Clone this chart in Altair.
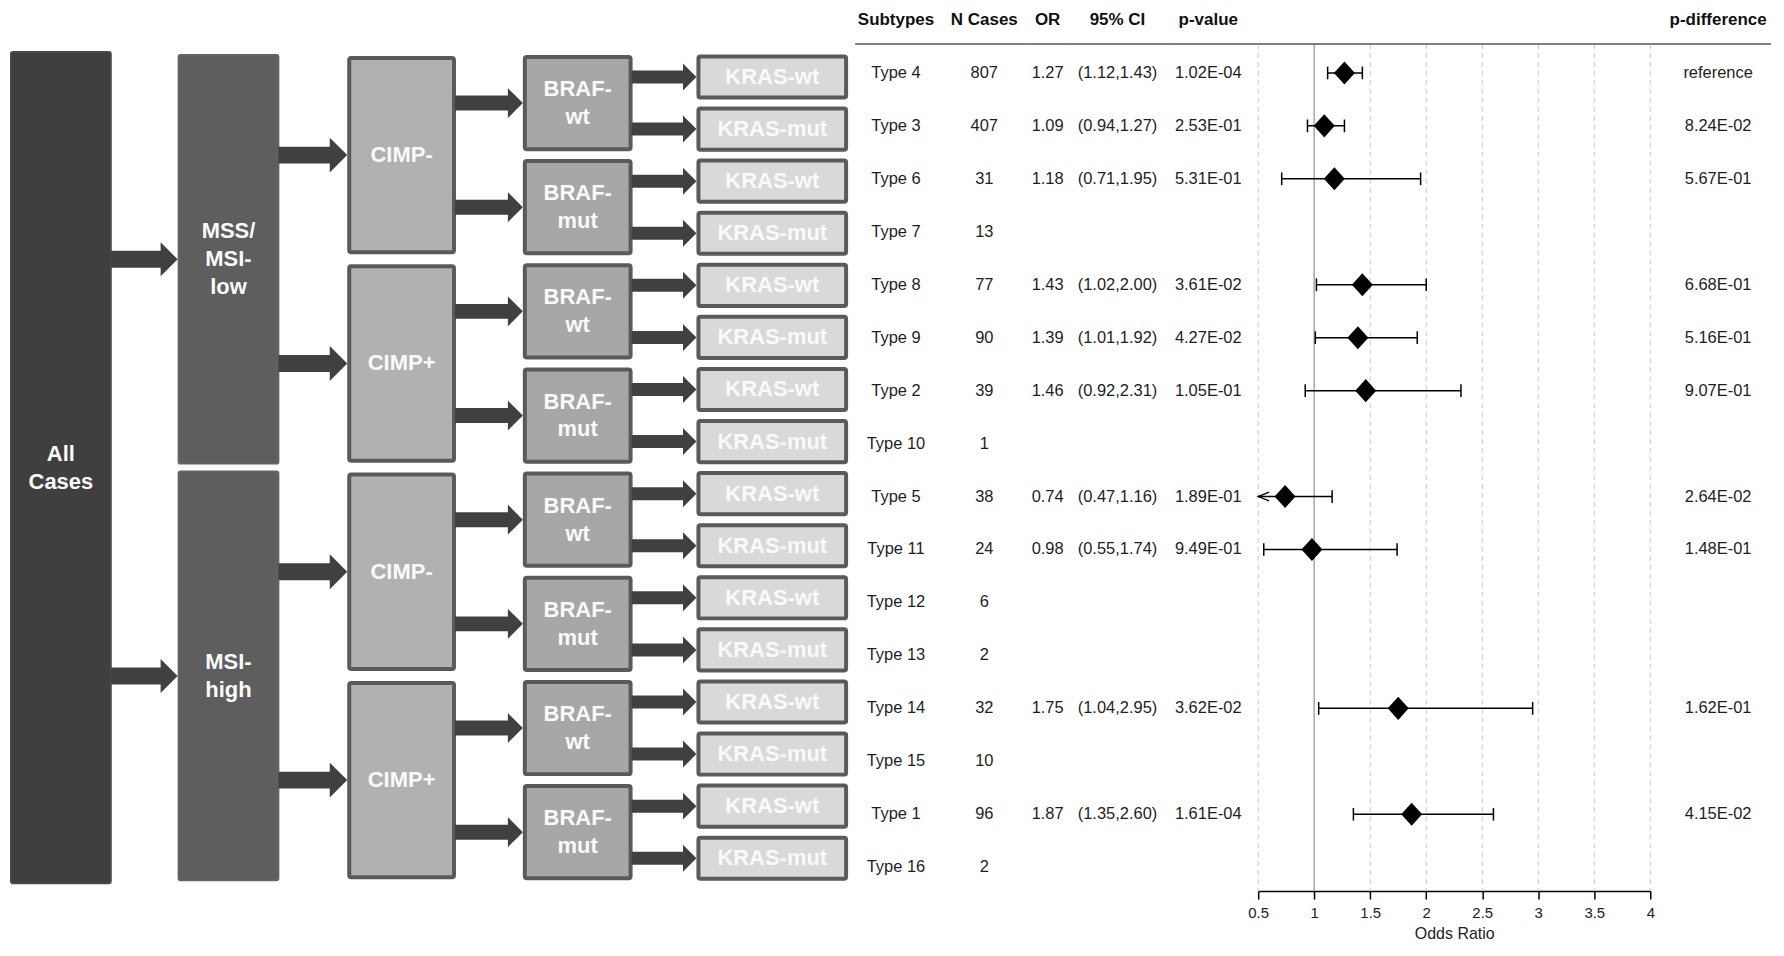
import altair as alt
import pandas as pd

# ---------------- data ----------------
subtypes = ["Type 4", "Type 3", "Type 6", "Type 7", "Type 8", "Type 9", "Type 2", "Type 10",
            "Type 5", "Type 11", "Type 12", "Type 13", "Type 14", "Type 15", "Type 1", "Type 16"]
n_cases = [807, 407, 31, 13, 77, 90, 39, 1, 38, 24, 6, 2, 32, 10, 96, 2]
odds_ratio = [1.27, 1.09, 1.18, None, 1.43, 1.39, 1.46, None, 0.74, 0.98, None, None, 1.75, None, 1.87, None]
ci_low = [1.12, 0.94, 0.71, None, 1.02, 1.01, 0.92, None, 0.47, 0.55, None, None, 1.04, None, 1.35, None]
ci_high = [1.43, 1.27, 1.95, None, 2.00, 1.92, 2.31, None, 1.16, 1.74, None, None, 2.95, None, 2.60, None]
p_value = ["1.02E-04", "2.53E-01", "5.31E-01", "", "3.61E-02", "4.27E-02", "1.05E-01", "",
           "1.89E-01", "9.49E-01", "", "", "3.62E-02", "", "1.61E-04", ""]
p_difference = ["reference", "8.24E-02", "5.67E-01", "", "6.68E-01", "5.16E-01", "9.07E-01", "",
                "2.64E-02", "1.48E-01", "", "", "1.62E-01", "", "4.15E-02", ""]
or_ticks = [0.5, 1, 1.5, 2, 2.5, 3, 3.5, 4]
or_reference = 1

# classification tree: label, level, first slot, last slot
diagram_labels = (["All\nCases", "MSS/\nMSI-\nlow", "MSI-\nhigh",
                   "CIMP-", "CIMP+", "CIMP-", "CIMP+"]
                  + ["BRAF-\nwt", "BRAF-\nmut"] * 4
                  + ["KRAS-wt", "KRAS-mut"] * 8)
diagram_levels = [0, 1, 1, 2, 2, 2, 2] + [3] * 8 + [4] * 16
diagram_start = [0, 0, 8, 0, 4, 8, 12, 0, 2, 4, 6, 8, 10, 12, 14,
                 0, 1, 2, 3, 4, 5, 6, 7, 8, 9, 10, 11, 12, 13, 14, 15]
diagram_end = [16, 8, 16, 4, 8, 12, 16, 2, 4, 6, 8, 10, 12, 14, 16,
               1, 2, 3, 4, 5, 6, 7, 8, 9, 10, 11, 12, 13, 14, 15, 16]

# ---------------- style / layout ----------------
FONT = "Liberation Sans"
H = 884
# table rows
ROW_TOP, ROW_BOT = -1.206, 15.45
HEADER_ROW, HEADER_LINE = -1.0, -0.546
# diagram slots
SLOT_PX = 52.2
SLOT_TOP = -42 / SLOT_PX
SLOT_BOT = (H - 42) / SLOT_PX
DIAG_W = 847
LEVEL_LEFT = [2, 170, 340, 516, 690]
LEVEL_RIGHT = [104, 272, 449, 626, 842]
LEVEL_INSET = [0, 3, 5, 4, 3.5]
LEVEL_FILL = ["#3f3f3f", "#5e5e5e", "#b1b1b1", "#a7a7a7", "#d9d9d9"]
LEVEL_STROKE = ["#4a4a4a", "#646464", "#5a5a5a", "#5a5a5a", "#5a5a5a"]
LEVEL_SW = [2, 2, 4, 4, 4]
ARROW_SHAFT = [0, 17, 17, 15, 13]
ARROW_HEAD = [0, 34, 35, 30, 27]
ARROW_COLOR = "#404040"
BOX_LINE_H = 28

# ---------------- diagram ----------------
boxes, texts, shafts, heads = [], [], [], []
for lab, lvl, s, e in zip(diagram_labels, diagram_levels, diagram_start, diagram_end):
    sw = LEVEL_SW[lvl]
    ins = (LEVEL_INSET[lvl] + sw / 2) / SLOT_PX
    boxes.append(dict(x0=LEVEL_LEFT[lvl] + sw / 2, x1=LEVEL_RIGHT[lvl] - sw / 2,
                      y0=s + ins, y1=e - ins, fill=LEVEL_FILL[lvl],
                      stroke=LEVEL_STROKE[lvl], sw=sw))
    cy = (s + e) / 2
    n_lines = lab.count("\n") + 1
    texts.append(dict(x=(LEVEL_LEFT[lvl] + LEVEL_RIGHT[lvl]) / 2,
                      y=cy - (n_lines - 1) / 2 * BOX_LINE_H / SLOT_PX, label=lab))
    if lvl > 0:
        hh = ARROW_HEAD[lvl]
        tip = LEVEL_LEFT[lvl]
        shafts.append(dict(xa=LEVEL_RIGHT[lvl - 1] - 1, xb=tip - hh / 2 + 2, y=cy,
                           w=ARROW_SHAFT[lvl]))
        heads.append(dict(x=tip - hh / 4, y=cy, size=hh * hh))

dx = alt.Scale(domain=[0, DIAG_W], nice=False, zero=False)
dy = alt.Scale(domain=[SLOT_TOP, SLOT_BOT], reverse=True, nice=False, zero=False)

d_boxes = alt.Chart(pd.DataFrame(boxes)).mark_rect(cornerRadius=2).encode(
    x=alt.X("x0:Q", scale=dx, axis=None), x2="x1:Q",
    y=alt.Y("y0:Q", scale=dy, axis=None), y2="y1:Q",
    fill=alt.Fill("fill:N", scale=None),
    stroke=alt.Stroke("stroke:N", scale=None),
    strokeWidth=alt.StrokeWidth("sw:Q", scale=None),
)
d_shafts = alt.Chart(pd.DataFrame(shafts)).mark_rule(color=ARROW_COLOR).encode(
    x=alt.X("xa:Q", scale=dx, axis=None), x2="xb:Q",
    y=alt.Y("y:Q", scale=dy, axis=None),
    strokeWidth=alt.StrokeWidth("w:Q", scale=None),
)
d_heads = alt.Chart(pd.DataFrame(heads)).mark_point(
    shape="M-0.5,-1L0.5,0L-0.5,1Z", filled=True, color=ARROW_COLOR, opacity=1, strokeWidth=0
).encode(
    x=alt.X("x:Q", scale=dx, axis=None),
    y=alt.Y("y:Q", scale=dy, axis=None),
    size=alt.Size("size:Q", scale=None),
)
d_text = alt.Chart(pd.DataFrame(texts)).mark_text(
    font=FONT, fontSize=22, fontWeight="bold", color="#fafafa", lineBreak="\n",
    lineHeight=BOX_LINE_H, baseline="middle", align="center"
).encode(
    x=alt.X("x:Q", scale=dx, axis=None),
    y=alt.Y("y:Q", scale=dy, axis=None),
    text="label:N",
)
diagram = alt.layer(d_boxes, d_shafts, d_heads, d_text).properties(width=DIAG_W, height=H)

# ---------------- table ----------------
rows = list(range(len(subtypes)))
def fmt(v):
    return "" if v is None else f"{v:.2f}"

table = pd.DataFrame({
    "row": rows,
    "subtype": subtypes,
    "n": [str(v) for v in n_cases],
    "or": [fmt(v) for v in odds_ratio],
    "ci": ["" if lo is None else f"({lo:.2f},{hi:.2f})" for lo, hi in zip(ci_low, ci_high)],
    "p": p_value,
    "pd": p_difference,
})

fy = alt.Scale(domain=[ROW_TOP, ROW_BOT], reverse=True, nice=False, zero=False)
line_df = pd.DataFrame({"row": [HEADER_LINE]})
LINE_COLOR = "#555555"


def text_column(field, header, width, text_x, line_x0=0, line_x1=None):
    line_x1 = width if line_x1 is None else line_x1
    line = alt.Chart(line_df).mark_rule(color=LINE_COLOR, strokeWidth=1.5).encode(
        y=alt.Y("row:Q", scale=fy, axis=None), x=alt.value(line_x0), x2=alt.value(line_x1))
    layers = [line]
    if header:
        hd = alt.Chart(pd.DataFrame({"row": [HEADER_ROW], "h": [header]})).mark_text(
            font=FONT, fontSize=17, fontWeight="bold", color="#111111",
            align="center", baseline="middle").encode(
            y=alt.Y("row:Q", scale=fy, axis=None), x=alt.value(text_x), text="h:N")
        layers.append(hd)
    if field:
        vals = alt.Chart(table).mark_text(
            font=FONT, fontSize=16.5, color="#1e1e1e", align="center", baseline="middle").encode(
            y=alt.Y("row:Q", scale=fy, axis=None), x=alt.value(text_x), text=f"{field}:N")
        layers.append(vals)
    return alt.layer(*layers).properties(width=width, height=H)


c_sub = text_column("subtype", "Subtypes", 86, 43, line_x0=2)
c_n = text_column("n", "N Cases", 91, 45.5)
c_or = text_column("or", "OR", 36, 18)
c_ci = text_column("ci", "95% CI", 104, 52)
c_p = text_column("p", "p-value", 89, 39)
c_pd = text_column("pd", "p-difference", 126, 68, line_x1=121)

# ---------------- forest plot ----------------
fx = alt.Scale(domain=[or_ticks[0], or_ticks[-1]], nice=False, zero=False)
x_axis = alt.Axis(values=or_ticks, format="~g", title="Odds Ratio", grid=False,
                  domainColor="#000000", domainWidth=1.5, tickColor="#000000", tickWidth=1.5,
                  tickSize=8, labelFont=FONT, labelFontSize=15, labelColor="#222222",
                  labelPadding=7, titleFont=FONT, titleFontSize=16, titleFontWeight="normal",
                  titleColor="#222222", titlePadding=5, labelFlush=False)

grid_df = pd.DataFrame({"x": [t for t in or_ticks if t != or_reference],
                        "y0": HEADER_LINE, "y1": ROW_BOT})
ref_df = pd.DataFrame({"x": [or_reference], "y0": [HEADER_LINE], "y1": [ROW_BOT]})

est = []
caps = []
clipped = []
xmin = or_ticks[0]
for r, o, lo, hi in zip(rows, odds_ratio, ci_low, ci_high):
    if o is None:
        continue
    est.append(dict(row=r, o=o, lo=max(lo, xmin), hi=hi))
    caps.append(dict(x=hi, y0=r - 0.12, y1=r + 0.12))
    if lo >= xmin:
        caps.append(dict(x=lo, y0=r - 0.12, y1=r + 0.12))
    else:
        clipped.append(dict(x=xmin, row=r))
est_df = pd.DataFrame(est)

f_grid = alt.Chart(grid_df).mark_rule(color="#c8c8c8", strokeDash=[5, 4], strokeWidth=1).encode(
    x=alt.X("x:Q", scale=fx, axis=x_axis),
    y=alt.Y("y0:Q", scale=fy, axis=None), y2="y1:Q")
f_ref = alt.Chart(ref_df).mark_rule(color="#a8a8a8", strokeWidth=1.5).encode(
    x=alt.X("x:Q", scale=fx), y=alt.Y("y0:Q", scale=fy, axis=None), y2="y1:Q")
f_line = alt.Chart(line_df).mark_rule(color=LINE_COLOR, strokeWidth=1.5).encode(
    y=alt.Y("row:Q", scale=fy, axis=None), x=alt.value(0), x2=alt.value(393))
f_ci = alt.Chart(est_df).mark_rule(color="#000000", strokeWidth=1.5).encode(
    x=alt.X("lo:Q", scale=fx), x2="hi:Q", y=alt.Y("row:Q", scale=fy, axis=None))
f_caps = alt.Chart(pd.DataFrame(caps)).mark_rule(color="#000000", strokeWidth=1.5).encode(
    x=alt.X("x:Q", scale=fx), y=alt.Y("y0:Q", scale=fy, axis=None), y2="y1:Q")
f_clip = alt.Chart(pd.DataFrame(clipped)).mark_point(
    shape="M2,-0.8L0,0L2,0.8", filled=False, color="#000000", strokeWidth=1.3, opacity=1, size=121
).encode(x=alt.X("x:Q", scale=fx), y=alt.Y("row:Q", scale=fy, axis=None))
f_est = alt.Chart(est_df).mark_point(
    shape="M0,-1.1L1,0L0,1.1L-1,0Z", filled=True, color="#000000", opacity=1, size=441, strokeWidth=0
).encode(x=alt.X("o:Q", scale=fx), y=alt.Y("row:Q", scale=fy, axis=None))

forest = alt.layer(f_grid, f_ref, f_line, f_ci, f_caps, f_clip, f_est).properties(width=393, height=H)

chart = alt.hconcat(
    diagram, c_sub, c_n, c_or, c_ci, c_p, forest, c_pd, spacing=0, bounds="flush"
).resolve_scale(x="independent", y="independent").properties(
    padding=0, background="white"
).configure_view(stroke=None)

chart.save("out.html", embed_options={"renderer": "svg", "actions": False})
